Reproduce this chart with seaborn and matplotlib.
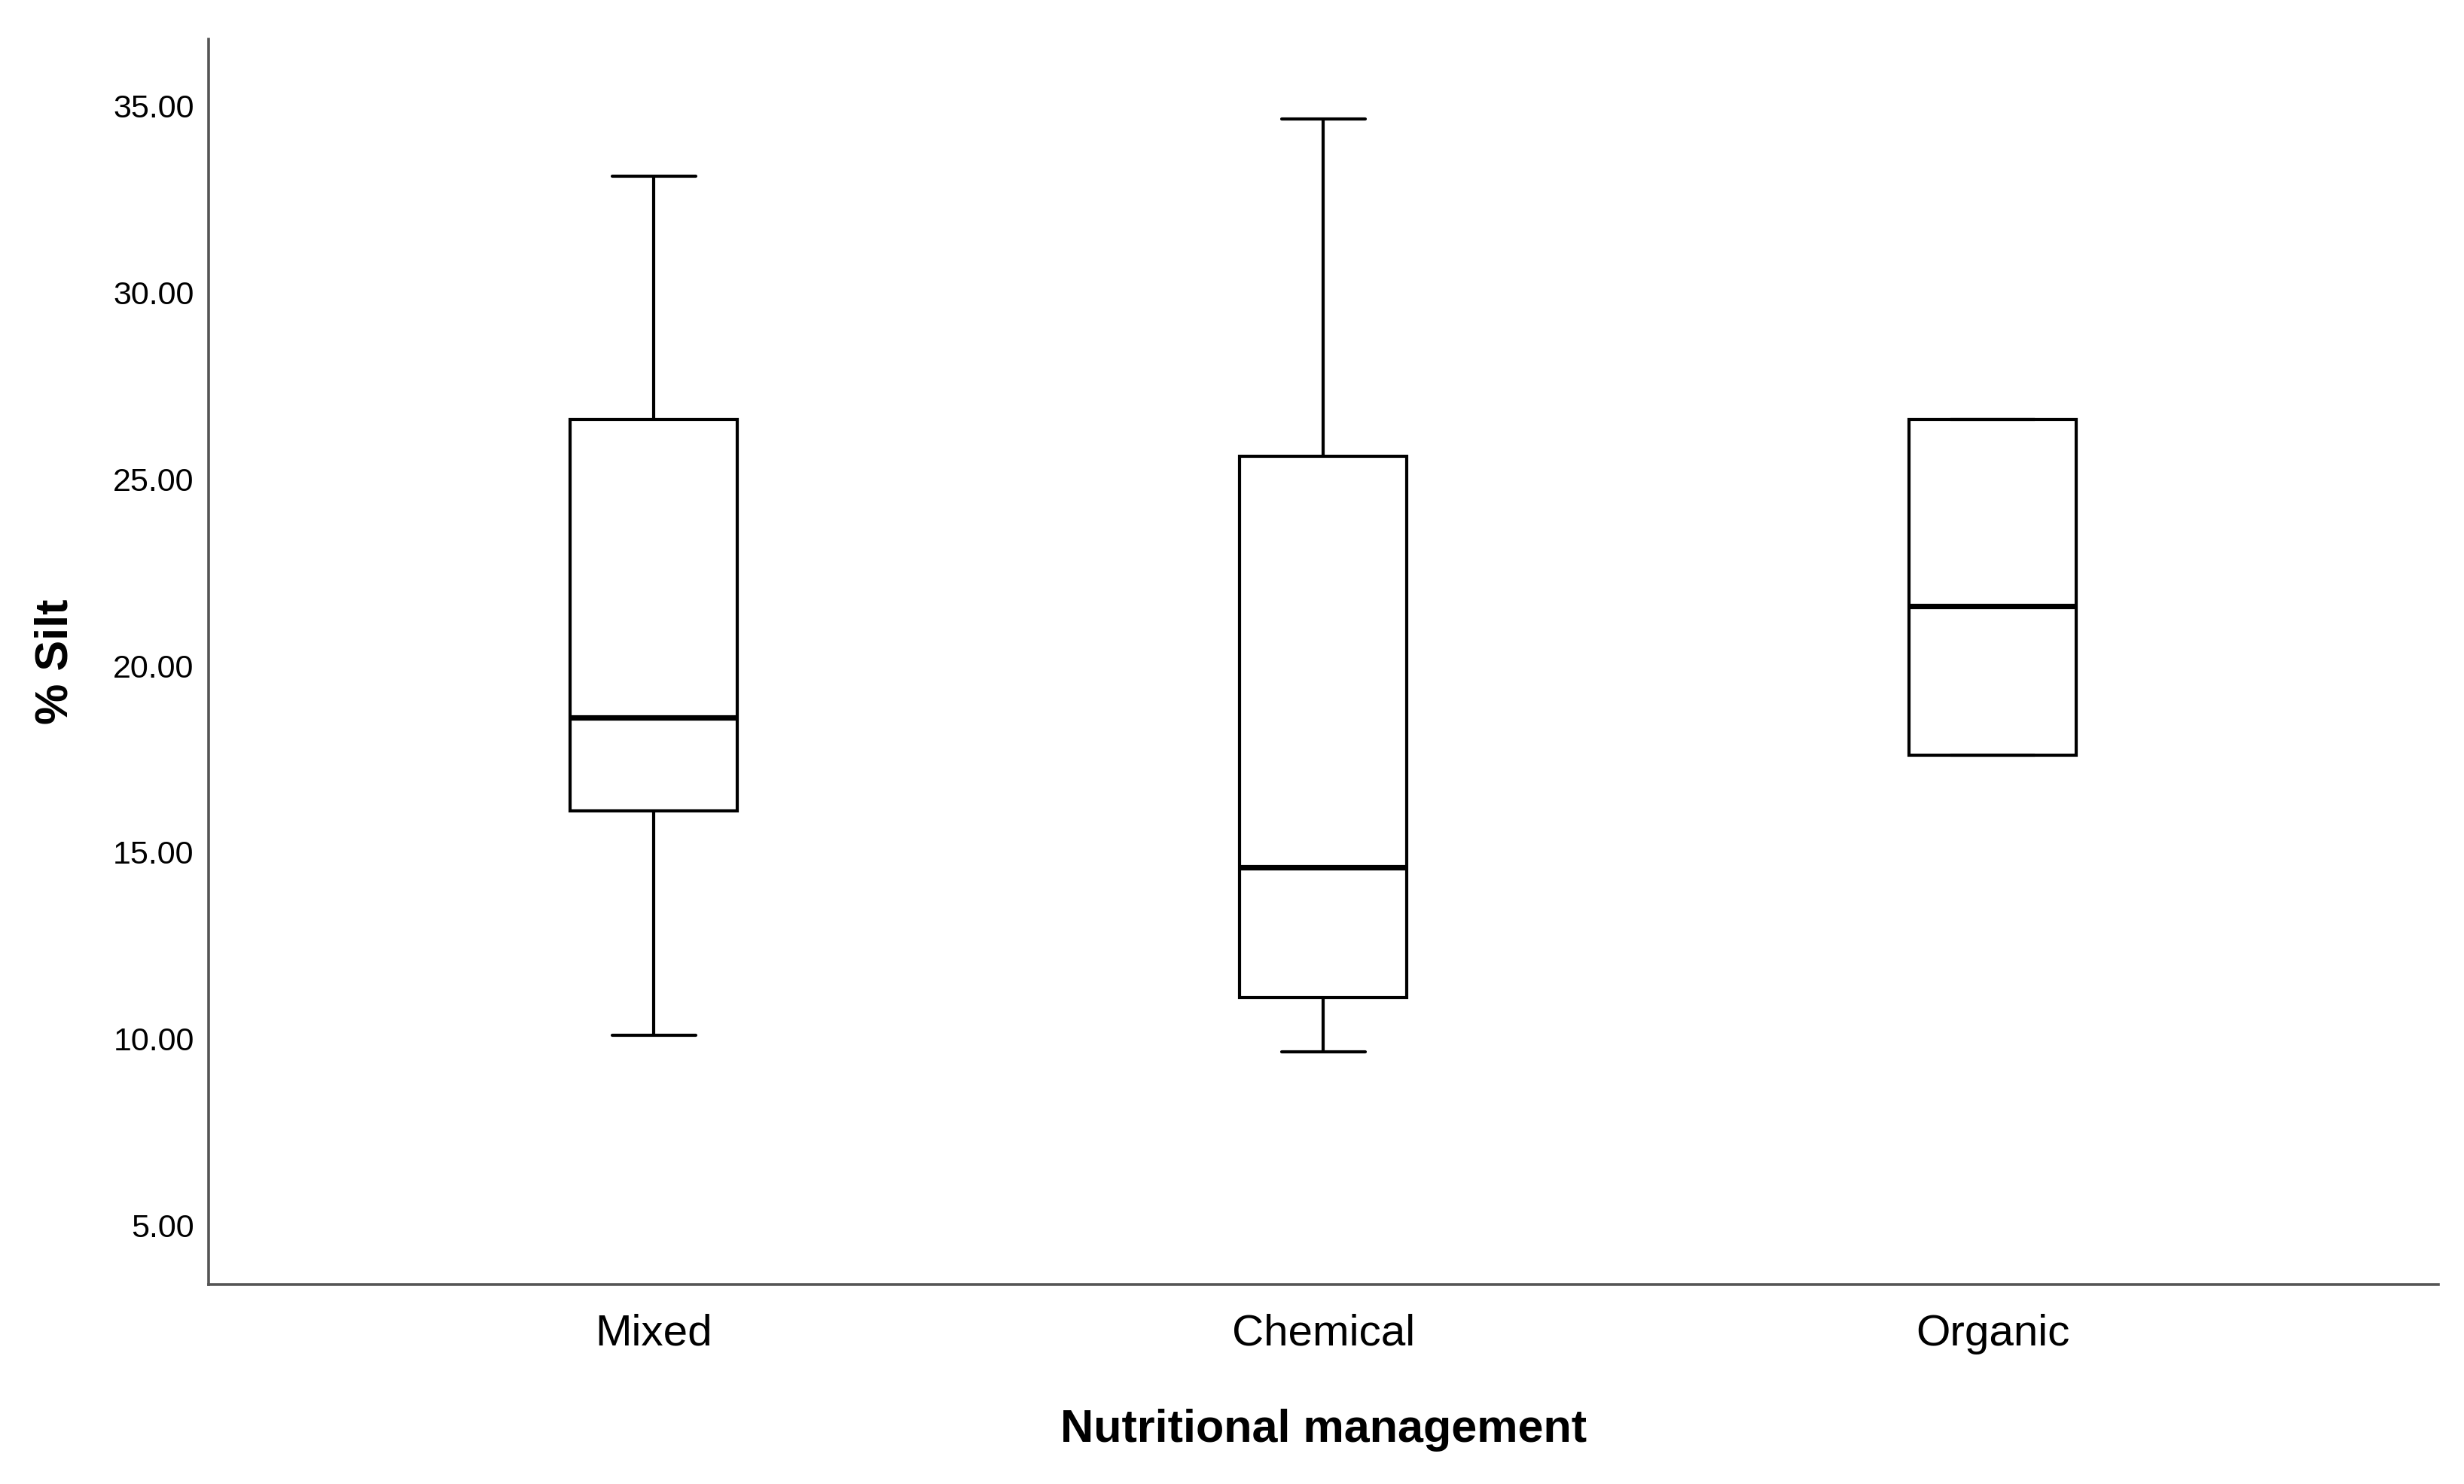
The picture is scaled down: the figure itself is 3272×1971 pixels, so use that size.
"""Box plot of % silt by nutritional management (SPSS-style)."""

import matplotlib
matplotlib.use("Agg")
import matplotlib.pyplot as plt
import numpy as np
import pandas as pd
import seaborn as sns

# five-number summaries (min, Q1, median, Q3, max)
categories = ["Mixed", "Chemical", "Organic"]
mixed_vals = [10.10, 16.10, 18.60, 26.60, 33.10]
chemical_vals = [9.65, 11.10, 14.60, 25.60, 34.65]
organic_vals = [17.60, 17.60, 21.60, 26.60, 26.60]
y_ticks = [5, 10, 15, 20, 25, 30, 35]

df = pd.DataFrame({
    "group": np.repeat(categories, 5),
    "silt": mixed_vals + chemical_vals + organic_vals,
})

sns.set_theme(style="white")
plt.rcParams["font.family"] = ["Liberation Sans", "DejaVu Sans"]
plt.rcParams["text.color"] = "black"
plt.rcParams["axes.labelcolor"] = "black"
plt.rcParams["xtick.color"] = "black"
plt.rcParams["ytick.color"] = "black"

fig = plt.figure(figsize=(16.36, 9.855), dpi=200)
ax = fig.add_axes([0.0847, 0.1344, 0.9049, 0.8392])

line_kw = dict(color="black", linewidth=1.5)
sns.boxplot(
    data=df, x="group", y="silt", order=categories, ax=ax,
    width=0.25, whis=(0, 100), color="white", linecolor="black",
    linewidth=1.5,
    boxprops=dict(facecolor="white", edgecolor="black", linewidth=1.5),
    medianprops=dict(color="black", linewidth=2.6),
    whiskerprops=line_kw, capprops=line_kw,
)

ax.set_xlim(-0.665, 2.666)
ax.set_ylim(3.42, 36.78)
ax.set_yticks(y_ticks)
ax.set_yticklabels([f"{v:.2f}" for v in y_ticks], fontsize=15.5)
ax.tick_params(axis="y", length=0, pad=7)
ax.tick_params(axis="x", length=0, pad=14, labelsize=21)

ax.set_xlabel("Nutritional management", fontsize=22, fontweight="bold",
              labelpad=26)
ax.set_ylabel("% Silt", fontsize=22, fontweight="bold", labelpad=17)

sns.despine(ax=ax)
for side in ("left", "bottom"):
    ax.spines[side].set_color("#555555")
    ax.spines[side].set_linewidth(1.3)

fig.savefig("out.png", dpi=200)
plt.close(fig)
